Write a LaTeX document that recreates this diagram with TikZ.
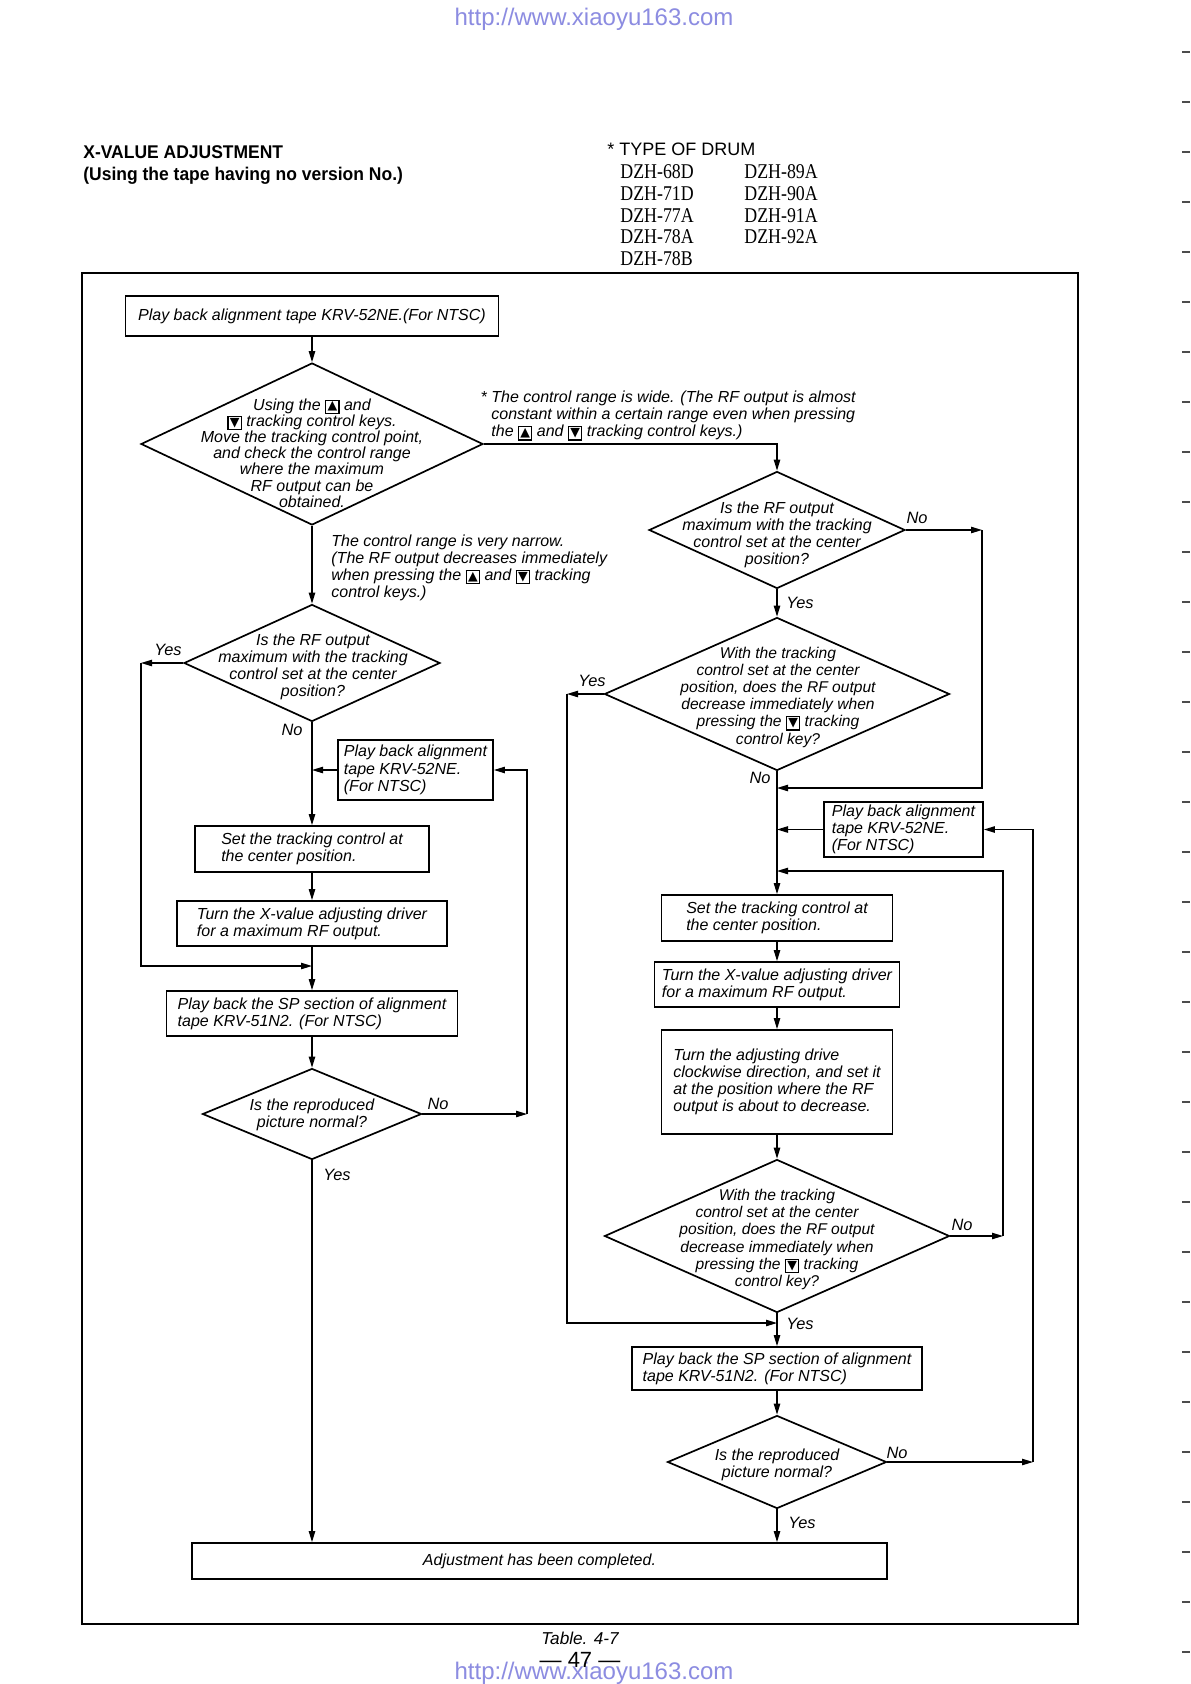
\documentclass[tikz,border=0pt]{standalone}
\usepackage{fontspec}
\setmainfont{Liberation Sans}
\newfontfamily\dejavu{DejaVu Sans}
\newfontfamily\drumserif[FakeStretch=0.85]{Liberation Serif}
\newfontfamily\titlefont[FakeStretch=0.95]{Liberation Sans}
\usetikzlibrary{shapes.geometric,arrows.meta}
\definecolor{urlc}{RGB}{140,140,225}
\newcommand\keyb[1]{\raisebox{-1.1pt}{\setlength\fboxsep{0.2pt}\setlength\fboxrule{0.6pt}\fbox{\vbox to 5.6pt{\vss\hbox to 5.6pt{\hss{\dejavu\upshape\fontsize{6.3}{6.3}\selectfont #1}\hss}\vss}}}}
\newcommand\upk{\keyb{▲}}
\newcommand\dnk{\keyb{▼}}
\tikzset{
  flow/.style={font=\itshape\fontsize{8}{8.6}\selectfont},
  box/.style={draw, line width=0.9pt, inner sep=0pt, align=left, flow},
  dia/.style={draw, diamond, line width=0.85pt, inner sep=0pt},
  dtext/.style={align=center, inner sep=0pt, font=\itshape\fontsize{8}{8.6}\selectfont},
  dtextb/.style={align=center, inner sep=0pt, font=\itshape\fontsize{7.8}{8.6}\selectfont},
  ann/.style={align=left, inner sep=0pt, anchor=west, font=\itshape\fontsize{8}{8.5}\selectfont},
  lbl/.style={inner sep=0pt, font=\itshape\fontsize{8.2}{9}\selectfont},
  conn/.style={line width=0.6pt},
  arr/.style={conn, -{Triangle[length=5.5pt,width=3.2pt]}},
  drum/.style={anchor=west, inner sep=0pt, font=\drumserif\fontsize{10.5}{11}\selectfont},
}
\begin{document}
\begin{tikzpicture}[x=0.5pt,y=-0.5pt]
\useasboundingbox (0,0) rectangle (1190,1684);
\fill[white] (0,0) rectangle (1190,1684);

% page decorations
\node[font=\fontsize{12}{12}\selectfont, text=urlc, inner sep=0pt] (url1) at (594,19) {http://www.xiaoyu163.com};
\foreach \k in {0,...,32} \draw[line width=0.7pt, black!70] (1182,{52+50*\k}) -- (1190,{52+50*\k});

% header
\node[anchor=west, inner sep=0pt, font=\titlefont\bfseries\fontsize{9.2}{10}\selectfont] (title1) at (83,152) {X-VALUE ADJUSTMENT};
\node[anchor=west, inner sep=0pt, font=\titlefont\bfseries\fontsize{9.2}{10}\selectfont] (title2) at (83,176) {(Using the tape having no version No.)};
\node[anchor=west, inner sep=0pt, font=\fontsize{9}{10}\selectfont] (drumh) at (607,149) {* TYPE OF DRUM};
\node[drum] (d1) at (620,172) {DZH-68D};
\node[drum] (d2) at (620,194) {DZH-71D};
\node[drum] (d3) at (620,216) {DZH-77A};
\node[drum] (d4) at (620,237) {DZH-78A};
\node[drum] (d5) at (620,259) {DZH-78B};
\node[drum] (d6) at (744,172) {DZH-89A};
\node[drum] (d7) at (744,194) {DZH-90A};
\node[drum] (d8) at (744,216) {DZH-91A};
\node[drum] (d9) at (744,237) {DZH-92A};

% frame
\draw[line width=0.8pt] (82,273) rectangle (1078,1624);

% left column
\node[box, minimum width=186.5pt, minimum height=20pt] (A) at (312,316) {Play back alignment tape KRV-52NE.(For NTSC)};
\node[dia, minimum width=171pt, minimum height=81pt] (D1) at (312,444) {};
\node[dtext, font=\itshape\fontsize{8}{8.1}\selectfont] (D1t) at (312,453) {Using the \upk{} and\\\dnk{} tracking control keys.\\Move the tracking control point,\\and check the control range\\where the maximum\\RF output can be\\obtained.};
\node[ann] (N1) at (491,416) {\llap{*\ }The control range is wide. (The RF output is almost\\constant within a certain range even when pressing\\the \upk{} and \dnk{} tracking control keys.)};
\node[ann] (N2) at (331,568) {The control range is very narrow.\\(The RF output decreases immediately\\when pressing the \upk{} and \dnk{} tracking\\control keys.)};
\node[dia, minimum width=128pt, minimum height=58.5pt] (D1b) at (312,663) {};
\node[dtext] (D1bt) at (313,667) {Is the RF output\\maximum with the tracking\\control set at the center\\position?};
\node[box, minimum width=77.5pt, minimum height=30pt] (P1) at (415.5,770) {Play back alignment\\tape KRV-52NE.\\(For NTSC)};
\node[box, minimum width=117pt, minimum height=23pt] (S1) at (312,849) {Set the tracking control at\\the center position.};
\node[box, minimum width=135pt, minimum height=22.5pt] (T1) at (312,923.5) {Turn the X-value adjusting driver\\for a maximum RF output.};
\node[box, minimum width=145.5pt, minimum height=22.5pt] (P1a) at (312,1013.5) {Play back the SP section of alignment\\tape KRV-51N2. (For NTSC)};
\node[dia, minimum width=109.5pt, minimum height=45.5pt] (D1c) at (312,1114) {};
\node[dtext] (D1ct) at (312,1115) {Is the reproduced\\picture normal?};
\node[box, align=center, minimum width=347.5pt, minimum height=18pt] (F) at (539.5,1561) {Adjustment has been completed.};

% right column
\node[dia, minimum width=128pt, minimum height=58.5pt] (D2) at (777,530) {};
\node[dtext] (D2t) at (777,535) {Is the RF output\\maximum with the tracking\\control set at the center\\position?};
\node[dia, minimum width=172.5pt, minimum height=76.5pt] (D3) at (777,694) {};
\node[dtextb] (D3t) at (778,697) {With the tracking\\control set at the center\\position, does the RF output\\decrease immediately when\\pressing the \dnk{} tracking\\control key?};
\node[box, minimum width=79.5pt, minimum height=27.5pt] (P2) at (903.5,829.5) {Play back alignment\\tape KRV-52NE.\\(For NTSC)};
\node[box, minimum width=115.5pt, minimum height=23pt] (S2) at (777,918) {Set the tracking control at\\the center position.};
\node[box, minimum width=122.5pt, minimum height=22.5pt] (T2) at (777,984.5) {Turn the X-value adjusting driver\\for a maximum RF output.};
\node[box, minimum width=115.5pt, minimum height=52pt, font=\itshape\fontsize{8}{8.4}\selectfont] (U2) at (777,1082) {Turn the adjusting drive\\clockwise direction, and set it\\at the position where the RF\\output is about to decrease.};
\node[dia, minimum width=172.5pt, minimum height=76.5pt] (D4) at (777,1236) {};
\node[dtextb] (D4t) at (777,1239.5) {With the tracking\\control set at the center\\position, does the RF output\\decrease immediately when\\pressing the \dnk{} tracking\\control key?};
\node[box, minimum width=145pt, minimum height=21.5pt] (P3) at (777,1368.5) {Play back the SP section of alignment\\tape KRV-51N2. (For NTSC)};
\node[dia, minimum width=109.5pt, minimum height=46.5pt] (D5) at (777,1462) {};
\node[dtext] (D5t) at (777,1464.5) {Is the reproduced\\picture normal?};

% junction coordinates
\coordinate (cY1) at (141,663);
\coordinate (jL) at (312,966);
\coordinate (cN1) at (527,1114);
\coordinate (cN2) at (982,530);
\coordinate (jR1) at (777,788);
\coordinate (cY3) at (567,694);
\coordinate (jR4) at (777,1323);
\coordinate (cN4) at (1003,1236);
\coordinate (jR3) at (777,871);
\coordinate (cN5) at (1033,1462);

% left connectors
\draw[arr] (A.south) -- (D1.north);
\draw[arr] (D1.south) -- (D1b.north);
\draw[arr] (D1.east) -| (D2.north);
\draw[arr] (D1b.west) -- (cY1);
\draw[arr] (cY1) |- (jL);
\draw[arr] (D1b.south) -- (S1.north);
\draw[arr] (P1.west) -- (P1.west -| S1.north);
\draw[arr] (S1.south) -- (T1.north);
\draw[arr] (T1.south) -- (P1a.north);
\draw[arr] (P1a.south) -- (D1c.north);
\draw[arr] (D1c.east) -- (cN1);
\draw[arr] (cN1) |- (P1.east);
\draw[arr] (D1c.south) -- (D1c.south |- F.north);

% right connectors
\draw[arr] (D2.east) -- (cN2);
\draw[arr] (cN2) |- (jR1);
\draw[arr] (D2.south) -- (D3.north);
\draw[arr] (D3.west) -- (cY3);
\draw[arr] (cY3) |- (jR4);
\draw[arr] (D3.south) -- (S2.north);
\draw[arr] (P2.west) -- (P2.west -| S2.north);
\draw[arr] (S2.south) -- (T2.north);
\draw[arr] (T2.south) -- (U2.north);
\draw[arr] (U2.south) -- (D4.north);
\draw[arr] (D4.east) -- (cN4);
\draw[arr] (cN4) |- (jR3);
\draw[arr] (D4.south) -- (P3.north);
\draw[arr] (P3.south) -- (D5.north);
\draw[arr] (D5.east) -- (cN5);
\draw[arr] (cN5) |- (P2.east);
\draw[arr] (D5.south) -- (D5.south |- F.north);

% labels
\node[lbl] (l1) at (168,650) {Yes};
\node[lbl] (l2) at (292,730) {No};
\node[lbl] (l3) at (438,1104) {No};
\node[lbl] (l4) at (337,1175) {Yes};
\node[lbl] (l5) at (917,518) {No};
\node[lbl] (l6) at (800,603) {Yes};
\node[lbl] (l7) at (592,681) {Yes};
\node[lbl] (l8) at (760,778) {No};
\node[lbl] (l9) at (962,1225) {No};
\node[lbl] (l10) at (800,1324) {Yes};
\node[lbl] (l11) at (897,1453) {No};
\node[lbl] (l12) at (802,1523) {Yes};

% footer
\node[font=\itshape\fontsize{8.6}{9}\selectfont, inner sep=0pt] (tab) at (580,1638) {Table. 4-7};
\node[font=\fontsize{12}{12}\selectfont, text=urlc, inner sep=0pt] (url2) at (594,1673) {http://www.xiaoyu163.com};
\node[font=\fontsize{11}{11}\selectfont, inner sep=0pt] (pg) at (580,1660) {— 47 —};
\end{tikzpicture}
\end{document}
